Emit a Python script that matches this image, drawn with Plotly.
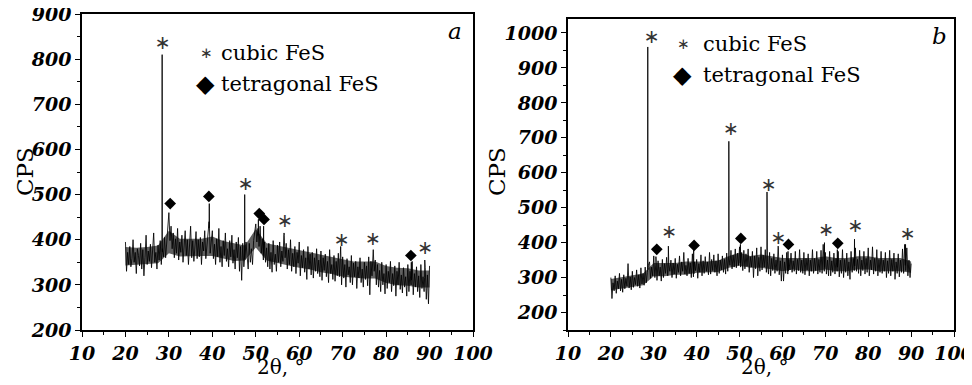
import numpy as np
import plotly.graph_objects as go

# ---------------- data ----------------
# noisy background, one row per degree (2θ = d, d+0.25, d+0.5, d+0.75), from 20° to 90°
x_start, x_step = 20.0, 0.25

a_noise = [
    395, 330, 372, 345,  385, 340, 358, 400,  350, 372, 325, 380,  365, 342, 392, 335,
    378, 320, 360, 410,  345, 375, 352, 390,  338, 368, 415, 350,  372, 335, 388, 355,
    398, 345, 380, 362,  405, 360, 395, 420,  460, 398, 430, 380,  415, 360, 402, 370,
    425, 355, 395, 372,  410, 350, 388, 420,  365, 400, 345, 392,  430, 360, 398, 352,
    385, 418, 358, 400,  362, 405, 345, 395,  375, 420, 358, 392,  412, 440, 370, 395,
    420, 358, 390, 345,  402, 362, 425, 350,  385, 340, 398, 365,  415, 352, 380, 340,
    398, 362, 410, 348,  378, 335, 395, 360,  405, 330, 385, 310,  392, 340, 360, 395,
    372, 335, 392, 350,  380, 345, 398, 420,  435, 395, 425, 385,  430, 370, 402, 355,
    395, 350, 382, 340,  392, 335, 372, 328,  398, 345, 368, 330,  388, 350, 395, 340,
    375, 352, 410, 360,  392, 335, 378, 345,  400, 330, 370, 340,  385, 325, 372, 348,
    395, 320, 365, 338,  378, 328, 360, 312,  385, 335, 368, 322,  372, 315, 360, 330,
    380, 325, 355, 318,  375, 310, 360, 332,  368, 318, 352, 305,  378, 325, 345, 312,
    365, 308, 352, 320,  370, 318, 385, 300,  362, 315, 345, 295,  358, 322, 340, 305,
    365, 300, 348, 318,  352, 292, 340, 315,  360, 305, 335, 295,  350, 312, 342, 298,
    362, 278, 352, 320,  378, 330, 355, 300,  345, 295, 332, 285,  350, 300, 325, 280,
    345, 292, 330, 305,  352, 285, 325, 298,  342, 275, 330, 300,  350, 290, 322, 282,
    338, 295, 318, 275,  345, 285, 330, 300,  352, 278, 325, 295,  340, 285, 320, 272,
    345, 292, 318, 285,  338, 268, 322, 258,
    342]

b_noise = [
    300, 240, 285, 262,  305, 255, 290, 268,  312, 262, 295, 258,  308, 268, 298, 275,
    340, 270, 302, 265,  318, 272, 300, 280,  322, 275, 308, 270,  328, 282, 312, 278,
    330, 285, 315, 335,  345, 298, 330, 305,  362, 300, 335, 292,  348, 305, 330, 290,
    352, 300, 340, 312,  358, 305, 338, 318,  350, 300, 342, 310,  355, 298, 338, 315,
    362, 305, 345, 318,  372, 310, 335, 305,  355, 312, 342, 300,  368, 302, 345, 320,
    352, 298, 340, 315,  365, 305, 348, 312,  360, 318, 345, 308,  372, 310, 352, 320,
    365, 315, 348, 305,  368, 312, 350, 322,  362, 315, 352, 310,  370, 318, 360, 335,
    378, 325, 365, 330,  382, 328, 370, 335,  388, 330, 372, 320,  378, 325, 368, 332,
    382, 315, 360, 330,  375, 300, 362, 325,  385, 305, 358, 318,  388, 322, 365, 330,
    380, 315, 345, 310,  372, 305, 355, 320,  368, 312, 350, 318,  385, 308, 348, 290,
    365, 290, 345, 312,  372, 310, 352, 322,  370, 315, 348, 318,  375, 310, 352, 320,
    380, 315, 350, 312,  372, 308, 355, 322,  368, 305, 350, 318,  380, 312, 355, 320,
    375, 310, 352, 315,  378, 312, 395, 318,  372, 310, 350, 305,  375, 305, 348, 315,
    370, 310, 355, 318,  375, 302, 350, 312,  380, 300, 352, 315,  370, 305, 345, 295,
    375, 315, 355, 320,  385, 318, 352, 312,  378, 305, 350, 320,  375, 310, 355, 315,
    385, 305, 350, 322,  388, 310, 355, 318,  380, 305, 352, 315,  375, 312, 350, 318,
    372, 300, 348, 312,  378, 305, 352, 318,  370, 295, 345, 312,  368, 302, 350, 315,
    382, 312, 395, 320,  385, 305, 350, 300,
    340]

# dense dark core of the noise band
band_x = [20, 22.5, 25, 27.5, 30, 32.5, 35, 37.5, 40, 42.5, 45, 47.5, 50, 52.5,
          55, 57.5, 60, 62.5, 65, 67.5, 70, 72.5, 75, 77.5, 80, 82.5, 85, 87.5, 90]
a_band_lo = [343, 344, 346, 348, 370, 363, 364, 364, 364, 358, 353, 354, 383, 354,
             348, 343, 338, 334, 328, 324, 318, 316, 314, 314, 304, 299, 298, 294, 294]
a_band_hi = [384, 382, 384, 387, 420, 402, 402, 402, 407, 397, 392, 387, 424, 392,
             387, 382, 377, 372, 367, 362, 357, 352, 352, 352, 342, 338, 337, 332, 332]
b_band_lo = [264, 268, 274, 278, 304, 304, 308, 308, 314, 314, 316, 328, 334, 328,
             328, 324, 318, 323, 318, 318, 323, 318, 318, 323, 323, 318, 318, 318, 314]
b_band_hi = [296, 302, 306, 312, 342, 342, 342, 346, 346, 346, 349, 362, 371, 362,
             366, 361, 356, 356, 356, 356, 361, 356, 356, 361, 361, 356, 356, 356, 346]

# sharp diffraction peaks (2θ, CPS at the top)
a_peak_x = [28.45, 39.3, 47.45, 50.6, 51.8, 56.5, 69.5, 77.0, 85.8, 88.9]
a_peak_top = [810, 480, 500, 445, 430, 415, 385, 375, 350, 355]
b_peak_x = [28.6, 30.5, 33.4, 39.3, 47.5, 50.2, 56.4, 59.0, 61.3, 69.8, 72.8, 76.8, 88.7]
b_peak_top = [960, 360, 390, 385, 690, 395, 545, 390, 375, 400, 380, 410, 395]

# phase labels above peaks
a_star_x = [28.6, 47.7, 56.7, 69.8, 77.0, 89.0]
a_star_y = [834, 520, 438, 396, 399, 379]
a_dia_x = [30.3, 39.2, 50.8, 51.9, 85.7]
a_dia_y = [480, 496, 458, 445, 365]

b_star_x = [29.5, 48.0, 56.8, 33.6, 59.1, 70.2, 77.0, 89.2]
b_star_y = [986, 722, 561, 426, 409, 432, 443, 421]
b_dia_x = [30.7, 39.4, 50.3, 61.4, 72.9]
b_dia_y = [381, 392, 412, 395, 398]

x_ticks = [10, 20, 30, 40, 50, 60, 70, 80, 90, 100]
legend_labels = ["cubic FeS", "tetragonal FeS"]
panel_labels = ["a", "b"]

# ---------------- figure ----------------
# the page body has an 8 px margin; the figure starts at (8, 8) and reaches the
# window's right and bottom edges. Layout positions below are in window pixels.
WIN_W, WIN_H, OFF = 972, 385, 8
W, H = WIN_W - OFF, WIN_H - OFF
SERIF = "DejaVu Serif"
fig = go.Figure()


def fx(X):
    return (X - OFF) / W


def fy(Y):
    return (H - (Y - OFF)) / H


def build_trace(noise, px, ptop):
    xs = list(x_start + x_step * np.arange(len(noise)))
    pts = list(zip(xs, noise))
    for p, t in zip(px, ptop):
        base = float(np.interp(p, xs, noise))
        pts += [(p - 0.04, base), (p, t), (p + 0.04, base)]
    pts.sort(key=lambda q: q[0])
    return [q[0] for q in pts], [q[1] for q in pts]


panels = [
    ("x", "y", a_noise, a_band_lo, a_band_hi, a_peak_x, a_peak_top,
     a_star_x, a_star_y, a_dia_x, a_dia_y),
    ("x2", "y2", b_noise, b_band_lo, b_band_hi, b_peak_x, b_peak_top,
     b_star_x, b_star_y, b_dia_x, b_dia_y),
]

for xa, ya, noise, lo, hi, px, pt, sx, sy, dx, dy in panels:
    fig.add_trace(go.Scatter(x=band_x + band_x[::-1], y=lo + hi[::-1], xaxis=xa, yaxis=ya,
                             mode="lines", fill="toself", fillcolor="rgba(0,0,0,0.62)",
                             line=dict(width=0), showlegend=False))
    tx, ty = build_trace(noise, px, pt)
    fig.add_trace(go.Scatter(x=tx, y=ty, xaxis=xa, yaxis=ya, mode="lines",
                             line=dict(color="rgba(0,0,0,0.85)", width=1), showlegend=False))
    fig.add_trace(go.Scatter(x=sx, y=sy, xaxis=xa, yaxis=ya, mode="text", text=["∗"] * len(sx),
                             textfont=dict(family="DejaVu Sans", size=19, color="#333"),
                             showlegend=False))
    fig.add_trace(go.Scatter(x=dx, y=dy, xaxis=xa, yaxis=ya, mode="markers",
                             marker=dict(symbol="diamond", size=9, color="black"),
                             showlegend=False))

axis_common = dict(showline=True, linecolor="black", linewidth=1.5, mirror=True,
                   ticks="outside", ticklen=5, tickwidth=1.3, tickcolor="black",
                   showgrid=False, zeroline=False, automargin=False,
                   ticklabeloverflow="allow",
                   tickfont=dict(family=SERIF, size=19, color="black", style="italic",
                                 weight="bold"))
minor = dict(ticklen=3, ticks="outside", tickcolor="black", tickwidth=1.2)

fig.update_layout(
    width=W, height=H, margin=dict(l=0, r=0, t=0, b=0), autosize=False,
    plot_bgcolor="white", paper_bgcolor="white", showlegend=False,
    xaxis=dict(domain=[fx(82), fx(473)], range=[10, 100], tickvals=x_ticks, anchor="y",
               minor=dict(dtick=5, **minor), **axis_common),
    yaxis=dict(domain=[fy(330), fy(14)], range=[200, 900], dtick=100, anchor="x",
               minor=dict(dtick=50, **minor), **axis_common),
    xaxis2=dict(domain=[fx(568), fx(954)], range=[10, 100], tickvals=x_ticks, anchor="y2",
                minor=dict(dtick=5, **minor), **axis_common),
    yaxis2=dict(domain=[fy(330), fy(19)], range=[150, 1040], dtick=100, tick0=0, anchor="x2",
                minor=dict(dtick=50, **minor), **axis_common),
)

annotations = []


def px_ann(X, Y, text, **kw):
    d = dict(xref="paper", yref="paper", x=fx(X), y=fy(Y), text=text, showarrow=False,
             xanchor="center", yanchor="middle", borderpad=0,
             font=dict(family=SERIF, size=21, color="black"))
    d.update(kw)
    annotations.append(d)


px_ann(25, 172, "CPS", textangle=-90, font=dict(family=SERIF, size=23, color="black"))
px_ann(497, 172, "CPS", textangle=-90, font=dict(family=SERIF, size=23, color="black"))
px_ann(280, 367, "2θ, °", font=dict(family=SERIF, size=20, color="black"))
px_ann(764, 367, "2θ, °", font=dict(family=SERIF, size=20, color="black"))
px_ann(455, 31, panel_labels[0], font=dict(family=SERIF, size=23, color="black", style="italic"))
px_ann(939, 36, panel_labels[1], font=dict(family=SERIF, size=23, color="black", style="italic"))

# in-plot legends
for (mx, my1, my2, tx) in [(206, 53, 84, 220), (683, 44, 75, 702)]:
    px_ann(mx, my1, "∗", font=dict(family="DejaVu Sans", size=15, color="#333"))
    px_ann(mx - 1, my2, "◆", font=dict(family="DejaVu Sans", size=24, color="black"))
    px_ann(tx, my1, legend_labels[0], xanchor="left")
    px_ann(tx, my2, legend_labels[1], xanchor="left")

fig.update_layout(annotations=annotations)
fig.write_html("out.html")
